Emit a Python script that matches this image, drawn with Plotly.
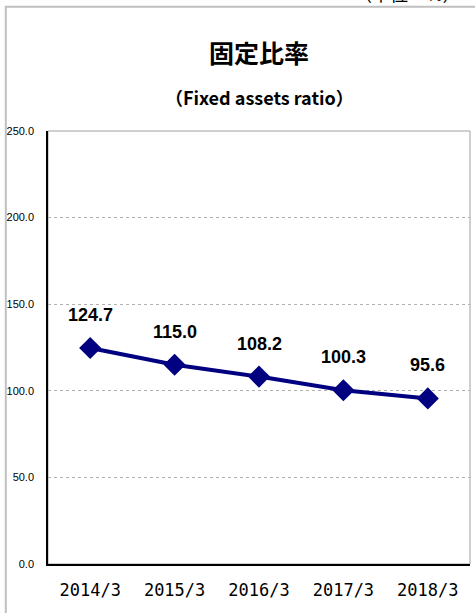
import plotly.graph_objects as go

years = ["2014/3", "2015/3", "2016/3", "2017/3", "2018/3"]
ratio = [124.7, 115.0, 108.2, 100.3, 95.6]
y_ticks = [0, 50, 100, 150, 200, 250]

fig = go.Figure()
fig.add_trace(go.Scatter(
    x=years,
    y=ratio,
    mode="lines+markers",
    line=dict(color="#000080", width=4),
    marker=dict(symbol="diamond", size=17, color="#000080"),
    showlegend=False,
))

# data labels sit well above the markers
for yr, v in zip(years, ratio):
    fig.add_annotation(x=yr, y=v, text=f"<b>{v:.1f}</b>", showarrow=False,
                       yshift=33,
                       font=dict(family="Liberation Sans, Arial",
                                 size=18, color="black"))

# outer frame and plot-area border
fig.add_shape(type="rect", xref="paper", yref="paper",
              x0=-0.1, x1=1.05, y0=-0.2, y1=1.287,
              line=dict(color="#c0c0c0", width=2), layer="below")
fig.add_shape(type="rect", xref="paper", yref="paper",
              x0=0, x1=1, y0=0, y1=1,
              line=dict(color="#a0a0a0", width=1), layer="below")

fig.add_annotation(text="<b>固定比率</b>", xref="paper", yref="paper",
                   x=0.5, y=1.183, yanchor="middle", showarrow=False,
                   font=dict(family="Noto Sans CJK JP", size=25, color="black"))
fig.add_annotation(text="<b>（Fixed assets ratio）</b>", xref="paper", yref="paper",
                   x=0.5, y=1.078, yanchor="middle", showarrow=False,
                   font=dict(family="Noto Sans CJK JP", size=18, color="black"))
fig.add_annotation(text="（単位：%）", xref="paper", yref="paper",
                   x=0.72, y=1.285, xanchor="left", yanchor="bottom",
                   showarrow=False,
                   font=dict(family="Noto Sans CJK JP", size=18, color="black"))

fig.update_xaxes(
    type="category", range=[-0.5, 4.5],
    showline=True, linecolor="black", linewidth=1.5,
    showgrid=False, ticks="", ticklabelstandoff=10,
    tickfont=dict(family="DejaVu Sans Mono", size=17, color="black"),
)
fig.update_yaxes(
    range=[0, 250], tickvals=y_ticks, tickformat=".1f",
    showline=True, linecolor="black", linewidth=1.5,
    showgrid=True, gridcolor="#b0b0b0", griddash="dot", gridwidth=1,
    zeroline=False, ticks="", ticklabelstandoff=10,
    tickfont=dict(family="Liberation Sans, Arial", size=11, color="black"),
)
fig.update_layout(
    width=475, height=613,
    margin=dict(l=48, r=5, t=131, b=49),
    paper_bgcolor="white", plot_bgcolor="white",
)

fig.write_html("out.html", config={"displayModeBar": False},
               post_script="document.body.style.margin='0';document.body.style.overflow='hidden';")
